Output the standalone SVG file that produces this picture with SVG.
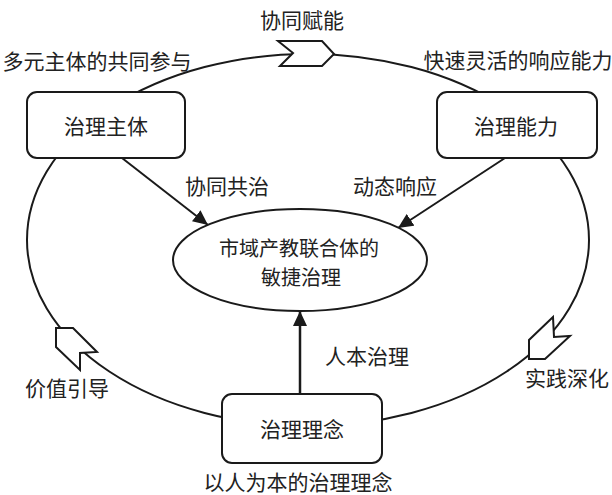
<svg xmlns="http://www.w3.org/2000/svg" width="612" height="495" viewBox="0 0 612 495">
<style>
.box{fill:#fff;stroke:#1a1a1a;stroke-width:2}
.loop{fill:none;stroke:#1a1a1a;stroke-width:2}
.chev{fill:#fff;stroke:#1a1a1a;stroke-width:2;stroke-linejoin:miter}
.arr{fill:none;stroke:#1a1a1a;stroke-width:2}
text{font-family:"Noto Sans CJK SC","Noto Sans CJK JP",sans-serif;font-size:21px;fill:#222;text-anchor:middle}
.ct{font-size:20px}
</style>
<defs>
<marker id="ah" markerUnits="userSpaceOnUse" markerWidth="16" markerHeight="14" refX="15" refY="7" orient="auto">
<path d="M0,0 L15,7 L0,14 z" fill="#1a1a1a"/>
</marker>
</defs>
<g id="connectors">
<ellipse class="loop" cx="308" cy="240" rx="281" ry="186"/>
<polygon class="chev" points="278,41 322,41 334,54 322,66 280,66 293,53"/>
<polygon class="chev" points="56,328 73,328 97,352 80,353 80,370 56,347"/>
<polygon class="chev" points="529,359 529,340 553,317 554,337 570,336 545,359"/>
<line class="arr" x1="122" y1="158" x2="208" y2="225" marker-end="url(#ah)"/>
<line class="arr" x1="505" y1="158" x2="398" y2="228" marker-end="url(#ah)"/>
<line class="arr" x1="300" y1="394" x2="300" y2="311" style="stroke-width:2.5" marker-end="url(#ah)"/>
</g>
<g id="node-subject">
<rect class="box" x="27" y="92" width="158" height="66" rx="10"/>
<text x="106" y="134">治理主体</text>
</g>
<g id="node-capability">
<rect class="box" x="437" y="92" width="160" height="66" rx="10"/>
<text x="516" y="134">治理能力</text>
</g>
<g id="node-concept">
<rect class="box" x="222" y="394" width="160" height="69" rx="10"/>
<text x="302" y="437">治理理念</text>
</g>
<g id="node-center">
<ellipse class="box" cx="300" cy="260" rx="127" ry="51"/>
<text class="ct" x="299" y="255.5">市域产教联合体的</text>
<text class="ct" x="301" y="284.5">敏捷治理</text>
</g>
<g id="labels">
<text x="302" y="28">协同赋能</text>
<text x="97" y="69">多元主体的共同参与</text>
<text x="518" y="68">快速灵活的响应能力</text>
<text x="227" y="194">协同共治</text>
<text x="395" y="194">动态响应</text>
<text x="367" y="364">人本治理</text>
<text x="298" y="490">以人为本的治理理念</text>
<text x="67" y="396">价值引导</text>
<text x="567" y="386">实践深化</text>
</g>
</svg>
